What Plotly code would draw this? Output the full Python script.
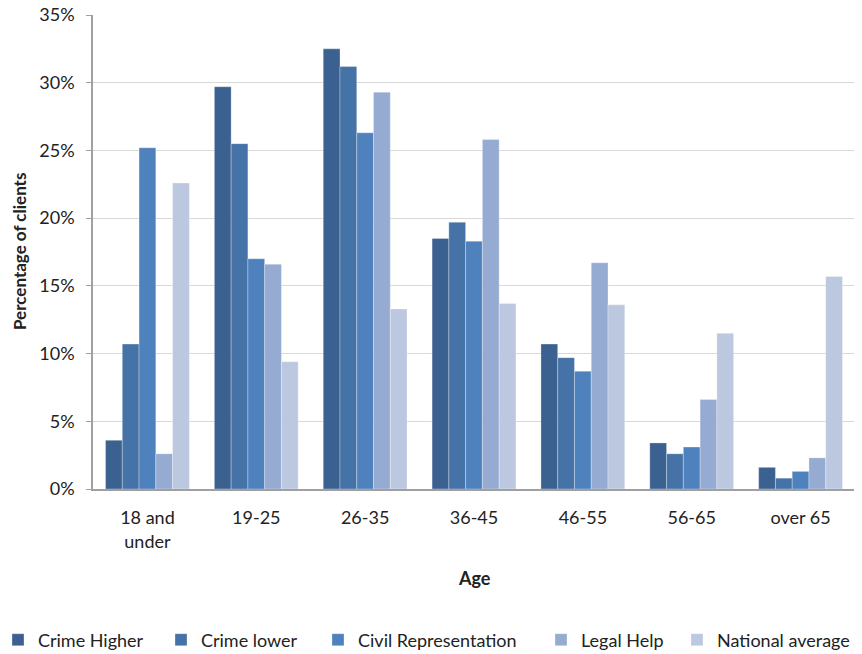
import plotly.graph_objects as go

categories = ["18 and<br>under", "19-25", "26-35", "36-45", "46-55", "56-65", "over 65"]
crime_higher = [3.6, 29.7, 32.5, 18.5, 10.7, 3.4, 1.6]
crime_lower = [10.7, 25.5, 31.2, 19.7, 9.7, 2.6, 0.8]
civil_rep = [25.2, 17.0, 26.3, 18.3, 8.7, 3.1, 1.3]
legal_help = [2.6, 16.6, 29.3, 25.8, 16.7, 6.6, 2.3]
national_avg = [22.6, 9.4, 13.3, 13.7, 13.6, 11.5, 15.7]

series = [
    ("Crime Higher", crime_higher, "#3B6190"),
    ("Crime lower", crime_lower, "#4572A7"),
    ("Civil Representation", civil_rep, "#4F81BD"),
    ("Legal Help", legal_help, "#95ABD2"),
    ("National average", national_avg, "#BCC8E0"),
]

# The page body adds an 8px offset; figure is sized to fit the window.
OFF = 8
W, H = 862 - OFF, 654 - OFF
L, T = 93 - OFF, 15 - OFF
plot_right, plot_bottom = 855 - OFF, 489 - OFF
R, B = W - plot_right, H - plot_bottom
pw = W - L - R
ph = H - T - B

# legend symbol centres (page px)
legend_sym_centers = [18, 181, 338, 561, 697]
legend_ids = ["legend", "legend2", "legend3", "legend4", "legend5"]

fig = go.Figure()
for (name, vals, col), lid in zip(series, legend_ids):
    fig.add_trace(go.Bar(
        x=categories, y=[v / 100 for v in vals], name=name, legend=lid,
        marker=dict(color=col, line=dict(color="rgba(255,255,255,0.5)", width=0.6)),
    ))

font_family = "Lato, Liberation Sans, Arial, sans-serif"
FS = 18
layout_legends = {}
for lid, cx in zip(legend_ids, legend_sym_centers):
    layout_legends[lid] = dict(
        orientation="h", x=(cx - OFF - 20 - L) / pw, xanchor="left",
        y=-(640 - 489) / ph, yanchor="middle",
        font=dict(size=FS, color="#222222"), bgcolor="rgba(0,0,0,0)",
    )

fig.update_layout(
    width=W, height=H,
    barmode="group", bargap=0.23, bargroupgap=0,
    plot_bgcolor="white", paper_bgcolor="white",
    margin=dict(l=L, r=R, t=T, b=B, autoexpand=False),
    font=dict(family=font_family, size=FS, color="#222222"),
    showlegend=True,
    xaxis=dict(
        showline=True, linecolor="#A0A0A0", linewidth=1.5,
        ticks="", tickfont=dict(size=FS), ticklabelstandoff=12,
        automargin=False,
    ),
    yaxis=dict(
        range=[0, 0.35], dtick=0.05, tickformat=".0%",
        showline=True, linecolor="#A0A0A0", linewidth=1.5,
        ticks="outside", ticklen=5, tickcolor="#A0A0A0",
        gridcolor="#D9D9D9", gridwidth=1,
        tickfont=dict(size=FS), ticklabelstandoff=8,
        ticklabeloverflow="allow",
        automargin=False,
    ),
    annotations=[
        dict(text="<b>Age</b>", xref="paper", yref="paper",
             x=0.5, y=-(578 - 489) / ph, xanchor="center", yanchor="middle",
             showarrow=False, font=dict(size=FS)),
        dict(text="<b>Percentage of clients</b>", xref="paper", yref="paper",
             x=-(93 - 19) / pw, y=0.5, xanchor="center", yanchor="middle",
             textangle=-90, showarrow=False, font=dict(size=17)),
    ],
    **layout_legends,
)

fig.write_html("out.html")
